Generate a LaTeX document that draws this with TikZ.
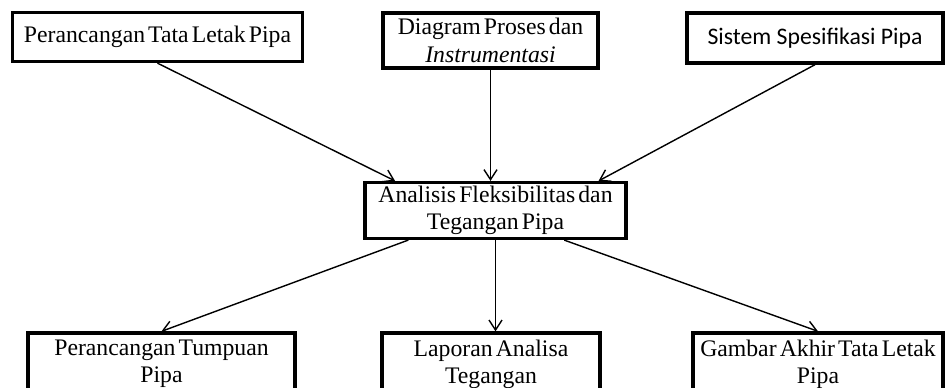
\documentclass[tikz,border=0pt]{standalone}
\usepackage{fontspec}
\setmainfont{Liberation Serif}
\newfontfamily\boxsans{Carlito}
\usetikzlibrary{arrows.meta, calc}
\newcommand{\tightsp}{\spaceskip=0.13em plus 0.05em minus 0.02em\relax}

\begin{document}
\begin{tikzpicture}[
    x=0.2mm, y=-0.2mm,
    >={Straight Barb[length=2mm,width=2.6mm]},
    every node/.style={font=\fontsize{13.5}{15.5}\selectfont\tightsp},
    box/.style ={draw, line width=1.9pt, align=center, inner sep=2pt},
    flow/.style={->, line width=0.8pt},
]
\clip (0,0) rectangle (950,387);
\node[box, minimum width=58mm, minimum height=9.8mm] (plan) at (157.5,37)
     {Perancangan Tata Letak Pipa};
\node[box, minimum width=43mm, minimum height=11mm] (pid) at (490.5,40.5)
     {Diagram Proses dan\\\textit{Instrumentasi}};
\node[box, minimum width=51.2mm, minimum height=10mm, font=\boxsans\fontsize{13.5}{15}\selectfont]
     (spec) at (815,38) {Sistem Spesifikasi Pipa};
\node[box, minimum width=52.2mm, minimum height=11mm] (flex) at (495.5,210.5)
     {Analisis Fleksibilitas dan\\Tegangan Pipa};
\node[box, minimum width=53.4mm, minimum height=12.4mm] (supp) at (161.5,364)
     {Perancangan Tumpuan\\Pipa};
\node[box, minimum width=43.6mm, minimum height=12.4mm] (rep) at (491,364)
     {Laporan Analisa\\Tegangan};
\node[box, minimum width=50mm, minimum height=12.4mm] (final) at (818,364)
     {Gambar Akhir Tata Letak\\Pipa};
% inputs
\draw[flow] (plan.south) -- ($(flex.north west)!0.12!(flex.north east)$);
\draw[flow] (pid.south) -- (pid.south |- flex.north);
\draw[flow] (spec.south) -- ($(flex.north west)!0.89!(flex.north east)$);
% outputs
\draw[flow] ($(flex.south west)!0.17!(flex.south east)$) -- (supp.north);
\draw[flow] (flex.south) -- (flex.south |- rep.north);
\draw[flow] ($(flex.south west)!0.76!(flex.south east)$) -- (final.north);
\end{tikzpicture}
\end{document}
